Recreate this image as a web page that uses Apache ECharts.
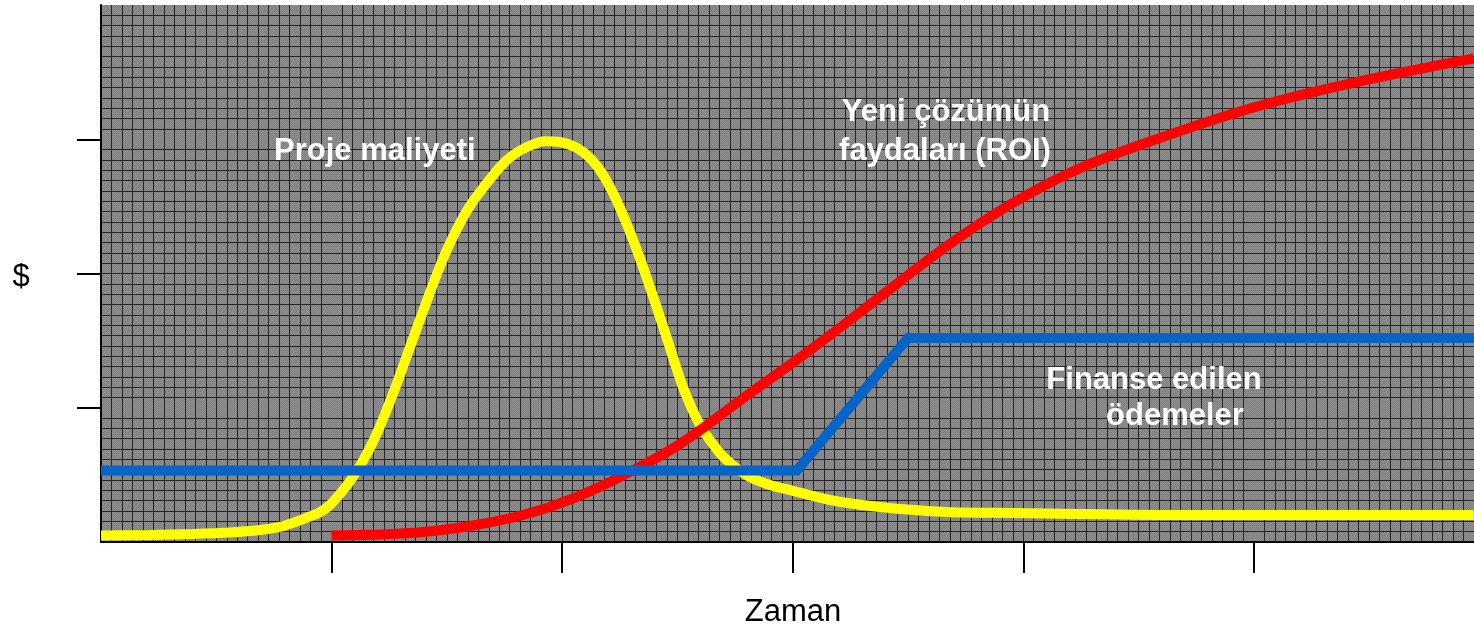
<!DOCTYPE html>
<html>
<head>
<meta charset="utf-8">
<script src="https://cdn.jsdelivr.net/npm/echarts@6/dist/echarts.min.js"></script>
<style>
html,body{margin:0;padding:0;background:#fff;}
#chart{width:1474px;height:630px;}
</style>
</head>
<body>
<div id="chart"></div>
<script>
// ---- data (x in time units, y in $ units) ----
const costX = [0.000, 0.212, 0.399, 0.559, 0.690, 0.776, 0.850, 0.906, 0.950, 0.993, 1.036, 1.080, 1.123, 1.175, 1.232, 1.284, 1.331, 1.375, 1.418, 1.457, 1.500, 1.548, 1.600, 1.657, 1.730, 1.787, 1.852, 1.925, 1.990, 2.064, 2.129, 2.186, 2.251, 2.316, 2.381, 2.454, 2.524, 2.598, 2.684, 2.749, 2.814, 2.901, 2.988, 3.161, 3.378, 3.669, 3.955, 4.679, 5.954];
const costY = [0.048, 0.052, 0.060, 0.071, 0.089, 0.112, 0.153, 0.190, 0.223, 0.276, 0.358, 0.454, 0.566, 0.730, 0.953, 1.184, 1.408, 1.616, 1.818, 1.996, 2.175, 2.346, 2.503, 2.637, 2.793, 2.883, 2.946, 2.985, 2.980, 2.935, 2.846, 2.711, 2.488, 2.212, 1.899, 1.520, 1.155, 0.872, 0.663, 0.559, 0.484, 0.425, 0.387, 0.313, 0.261, 0.223, 0.216, 0.201, 0.201];

const roiX = [1.000, 1.210, 1.396, 1.600, 1.830, 2.056, 2.272, 2.511, 2.801, 3.088, 3.378, 3.660, 3.929, 4.215, 4.506, 4.983, 5.416, 5.954];
const roiY = [0.048, 0.056, 0.074, 0.119, 0.201, 0.331, 0.503, 0.730, 1.091, 1.445, 1.825, 2.194, 2.499, 2.760, 2.957, 3.229, 3.415, 3.602];

const payX = [0.000, 3.018, 3.500, 5.955];
const payY = [0.533, 0.533, 1.520, 1.520];

const xTicks = [1, 2, 3, 4, 5];
const yTicks = [1, 2, 3];

const annotations = ['Proje maliyeti', 'Yeni çözümün', 'faydaları (ROI)', 'Finanse edilen', 'ödemeler'];
const xName = 'Zaman';
const yName = '$';

function zip(xs, ys) { return xs.map((x, i) => [x, ys[i]]); }

// dithered gray background pattern
const pat = document.createElement('canvas');
pat.width = 2; pat.height = 2;
const pctx = pat.getContext('2d');
pctx.fillStyle = '#7c7c7c'; pctx.fillRect(0, 0, 2, 2);
pctx.fillStyle = '#939393'; pctx.fillRect(0, 0, 1, 1); pctx.fillRect(1, 1, 1, 1);

const FONT = '"Liberation Sans", Arial, Helvetica, sans-serif';
const gridLine = { color: '#262626', width: 1 };

const chart = echarts.init(document.getElementById('chart'), null, { renderer: 'canvas' });
chart.setOption({
  animation: false,
  backgroundColor: '#ffffff',
  grid: {
    left: 101, right: 0, top: 5, bottom: 88,
    outerBoundsMode: 'none',
    containLabel: false,
    show: true,
    backgroundColor: { image: pat, repeat: 'repeat' },
    borderWidth: 0
  },
  xAxis: {
    type: 'value',
    min: 0, max: 5.955, interval: 1,
    name: xName,
    nameLocation: 'middle',
    nameGap: 55,
    nameTextStyle: { fontSize: 31, color: '#000', fontFamily: FONT, padding: [0, 0, 0, 11] },
    axisLine: { show: true, onZero: false, lineStyle: { color: '#000', width: 2 } },
    axisTick: { show: true, length: 31, customValues: xTicks, lineStyle: { color: '#000', width: 2 } },
    axisLabel: { show: false },
    splitLine: { show: true, showMinLine: false, showMaxLine: false, lineStyle: gridLine },
    minorTick: { show: false, splitNumber: 22 },
    minorSplitLine: { show: true, lineStyle: gridLine }
  },
  yAxis: {
    type: 'value',
    min: 0, max: 4, interval: 1,
    axisLine: { show: true, onZero: false, lineStyle: { color: '#000', width: 2 } },
    axisTick: { show: true, length: 24, customValues: yTicks, lineStyle: { color: '#000', width: 2 } },
    axisLabel: { show: false },
    splitLine: { show: true, showMinLine: false, showMaxLine: false, lineStyle: gridLine },
    minorTick: { show: false, splitNumber: 13 },
    minorSplitLine: { show: true, lineStyle: gridLine }
  },
  series: [
    {
      name: annotations[0], type: 'line', data: zip(costX, costY),
      smooth: 0.3, showSymbol: false, symbol: 'none',
      lineStyle: { color: '#ffff00', width: 10 }, z: 2
    },
    {
      name: 'ROI', type: 'line', data: zip(roiX, roiY),
      smooth: 0.35, showSymbol: false, symbol: 'none',
      lineStyle: { color: '#ff0000', width: 10 }, z: 3
    },
    {
      name: 'Finanse', type: 'line', data: zip(payX, payY),
      smooth: false, showSymbol: false, symbol: 'none',
      lineStyle: { color: '#0564c8', width: 10, join: 'miter' }, z: 4
    }
  ],
  graphic: [
    { type: 'text', z: 100, style: { text: yName, x: 21, y: 277, fill: '#000', font: '31px ' + FONT, align: 'center', verticalAlign: 'middle' } },
    { type: 'text', z: 100, style: { text: annotations[0], x: 274, y: 151, fill: '#fff', font: 'bold 31px ' + FONT, align: 'left', verticalAlign: 'middle' } },
    { type: 'text', z: 100, style: { text: annotations[1], x: 946, y: 112, fill: '#fff', font: 'bold 31px ' + FONT, align: 'center', verticalAlign: 'middle' } },
    { type: 'text', z: 100, style: { text: annotations[2], x: 945, y: 151, fill: '#fff', font: 'bold 31px ' + FONT, align: 'center', verticalAlign: 'middle' } },
    { type: 'text', z: 100, style: { text: annotations[3], x: 1154, y: 380, fill: '#fff', font: 'bold 31px ' + FONT, align: 'center', verticalAlign: 'middle' } },
    { type: 'text', z: 100, style: { text: annotations[4], x: 1175, y: 416, fill: '#fff', font: 'bold 31px ' + FONT, align: 'center', verticalAlign: 'middle' } }
  ]
});
</script>
</body>
</html>
